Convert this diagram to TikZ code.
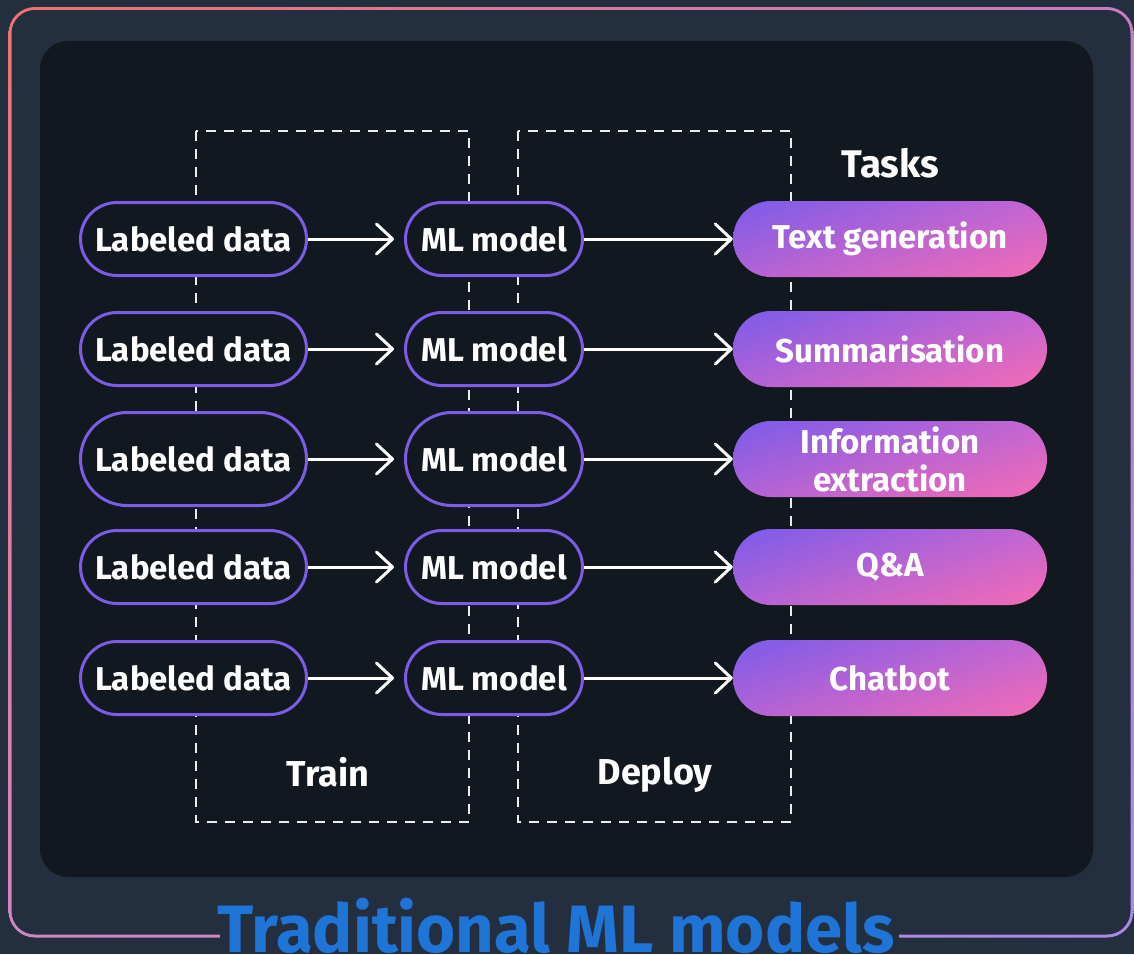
\documentclass[tikz,border=0pt]{standalone}
\usepackage{fontspec}
\setmainfont{Fira Sans}
\usetikzlibrary{arrows.meta,shapes.misc,shadings}
\definecolor{outerbg}{HTML}{232F3E}
\definecolor{panel}{HTML}{121820}
\definecolor{nodeborder}{HTML}{7B5CE6}
\definecolor{titleblue}{HTML}{1F74D8}
\definecolor{brdTL}{HTML}{F07270}
\definecolor{brdTR}{HTML}{C87CC4}
\definecolor{brdBL}{HTML}{D584C4}
\definecolor{brdBR}{HTML}{A98AE8}
\definecolor{tskTL}{HTML}{7A5BEA}
\definecolor{tskTR}{HTML}{C466D2}
\definecolor{tskBL}{HTML}{B263D6}
\definecolor{tskBR}{HTML}{F46BB4}
\definecolor{dashcol}{HTML}{ECECEC}
\tikzset{
  datanode/.style={rounded rectangle, draw=nodeborder, line width=3pt, fill=panel,
    text=white, font=\fontsize{33}{38}\selectfont\bfseries,
    minimum width=226pt, minimum height=73pt, inner sep=0pt},
  modelnode/.style={datanode, minimum width=177pt},
  tasknode/.style={rounded rectangle, minimum width=314pt, minimum height=76pt,
    inner sep=0pt, align=center, text=white,
    font=\fontsize{33}{38}\selectfont\bfseries,
    upper left=tskTL, upper right=tskTR, lower left=tskBL, lower right=tskBR},
  flow/.style={draw=white, line width=3pt,
    -{Straight Barb[length=16pt,width=30pt,round]}},
  dashbox/.style={draw=dashcol, line width=2pt, dash pattern=on 10pt off 8pt},
  caption/.style={text=white, font=\fontsize{36}{40}\selectfont\bfseries, inner sep=0pt}
}
\begin{document}
\begin{tikzpicture}[x=1pt,y=-1pt]
\useasboundingbox (0,0) rectangle (1134,954);
\fill[outerbg] (0,0) rectangle (1134,954);
% gradient frame
\shade[upper left=brdTL, upper right=brdTR, lower left=brdBL, lower right=brdBR,
  rounded corners=26.5pt] (8.5,7) rectangle (1133.5,937.5);
\fill[outerbg, rounded corners=23.5pt] (11.5,10) rectangle (1130.5,934.5);
\fill[outerbg] (220,926) rectangle (899,945);
% inner panel
\fill[panel, rounded corners=28pt] (40,41) rectangle (1093,877);
% dashed stage boxes
\draw[dashbox] (196,131) rectangle (469,822);
\draw[dashbox] (518,131) rectangle (791,822);
% captions
\node[caption] (train) at (328,772) {Train};
\node[caption] (deploy) at (655,775) {Deploy};
\node[caption, font=\fontsize{38.5}{42}\selectfont\bfseries] (tasks) at (890,163) {Tasks};
% rows
\node[datanode] (d1) at (193.5,239) {Labeled data};
\node[datanode] (d2) at (193.5,349) {Labeled data};
\node[datanode, minimum height=93pt] (d3) at (193.5,459) {Labeled data};
\node[datanode] (d4) at (193.5,567) {Labeled data};
\node[datanode] (d5) at (193.5,678) {Labeled data};
\node[modelnode] (m1) at (494,239) {ML model};
\node[modelnode] (m2) at (494,349) {ML model};
\node[modelnode, minimum height=93pt] (m3) at (494,459) {ML model};
\node[modelnode] (m4) at (494,567) {ML model};
\node[modelnode] (m5) at (494,678) {ML model};
\node[tasknode] (t1) at (890,239) {Text generation};
\node[tasknode] (t2) at (890,349) {Summarisation};
\node[tasknode] (t3) at (890,459) {Information\\extraction};
\node[tasknode] (t4) at (890,567) {Q\&A};
\node[tasknode] (t5) at (890,678) {Chatbot};
\foreach \i in {1,...,5}{
  \draw[flow, shorten >=10pt] (d\i.east) -- (m\i.west);
  \draw[flow] (m\i.east) -- (t\i.west);
}
% title
\node[anchor=base, text=titleblue, inner sep=0pt,
  font=\fontsize{67}{70}\selectfont\bfseries] (title) at (556,952) {Traditional ML models};
\end{tikzpicture}
\end{document}
